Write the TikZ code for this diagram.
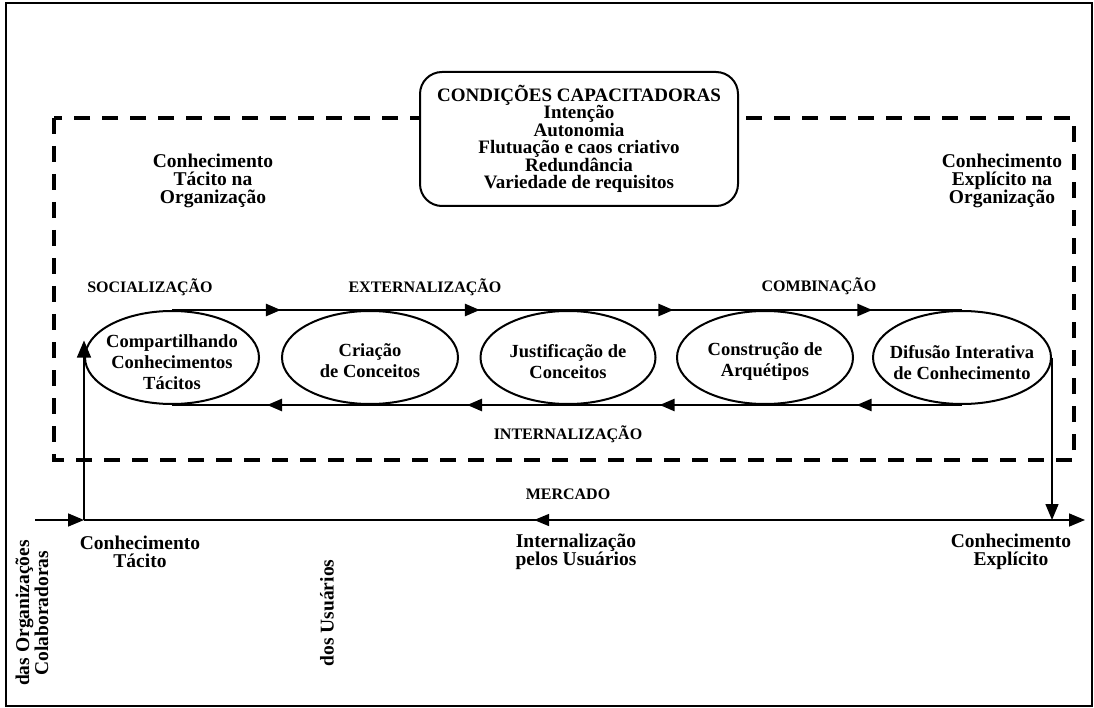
\documentclass[tikz,border=0pt]{standalone}
\usepackage{fontspec}
\setmainfont{Liberation Serif}
\usetikzlibrary{shapes.geometric,arrows.meta,decorations.markings}
\begin{document}
\lineskiplimit=-20pt
\begin{tikzpicture}[x=1pt,y=-1pt,
  lbl/.style={font=\bfseries\fontsize{19.5}{18.2}\selectfont, align=center, inner sep=0pt},
  bottomlbl/.style={font=\bfseries\fontsize{19.5}{17.5}\selectfont, align=center, inner sep=0pt},
  caps/.style={font=\bfseries\fontsize{16}{17}\selectfont, inner sep=0pt},
  stage/.style={ellipse, draw, line width=2pt, minimum height=93pt, inner sep=0pt},
  stagetext/.style={font=\bfseries\fontsize{18.5}{21}\selectfont, align=center, inner sep=0pt},
  flow/.style={line width=2.6pt},
  midtip/.style={postaction={decorate}, decoration={markings,
      mark=at position #1 with {\arrow{Triangle[length=15pt,width=12pt]}}}},
  dashbox/.style={line width=3.5pt, dash pattern=on 16pt off 12pt},
  capbox/.style={draw, line width=2pt, rounded corners=22pt, fill=white,
      minimum width=318pt, minimum height=134pt, align=center,
      font=\bfseries\fontsize{19}{17.5}\selectfont},
  axisline/.style={line width=1.6pt},
  vline/.style={line width=1.4pt},
  tip/.style={-{Triangle[length=16pt,width=13pt]}}
]
\useasboundingbox (0,0) rectangle (1094,708);

% outer frame
\draw[line width=2pt] (6,3) rectangle (1092,706);

% organisation boundary
\draw[dashbox] (54,118) rectangle (1074,460);

% enabling conditions
\node[capbox] (cond) at (579,139) {CONDIÇÕES CAPACITADORAS\\Intenção\\Autonomia\\Flutuação e caos criativo\\Redundância\\Variedade de requisitos};

% side labels
\node[lbl] (tacorg) at (213,181) {Conhecimento\\Tácito na\\Organização};
\node[lbl] (exporg) at (1002,181) {Conhecimento\\Explícito na\\Organização};

% phase labels
\node[caps] (soc) at (150,287) {SOCIALIZAÇÃO};
\node[caps] (ext) at (425,287) {EXTERNALIZAÇÃO};
\node[caps] (comb) at (819,286) {COMBINAÇÃO};
\node[caps] (intl) at (568,434) {INTERNALIZAÇÃO};

% stages
\node[stage, minimum width=174pt] (e1) at (172,357.5) {};
\node[stage, minimum width=176pt] (e2) at (370,357.5) {};
\node[stage, minimum width=175pt] (e3) at (568,357.5) {};
\node[stage, minimum width=176pt] (e4) at (765,357.5) {};
\node[stage, minimum width=178pt] (e5) at (962,357.5) {};

\node[stagetext] (t1) at ([yshift=-5pt]e1.center) {Compartilhando\\Conhecimentos\\Tácitos};
\node[stagetext] (t2) at ([yshift=-3pt]e2.center) {Criação\\de Conceitos};
\node[stagetext] (t3) at ([yshift=-4pt]e3.center) {Justificação de\\Conceitos};
\node[stagetext] (t4) at ([yshift=-4pt]e4.center) {Construção de\\Arquétipos};
\node[stagetext] (t5) at ([yshift=-5pt]e5.center) {Difusão Interativa\\de Conhecimento};

% forward spiral
\draw[flow, midtip=0.55] (e1.north) -- (e2.north);
\draw[flow, midtip=0.555] (e2.north) -- (e3.north);
\draw[flow, midtip=0.535] (e3.north) -- (e4.north);
\draw[flow, midtip=0.545] (e4.north) -- (e5.north);

% return spiral
\draw[flow, midtip=0.535] (e5.south) -- (e4.south);
\draw[flow, midtip=0.535] (e4.south) -- (e3.south);
\draw[flow, midtip=0.51] (e3.south) -- (e2.south);
\draw[flow, midtip=0.52] (e2.south) -- (e1.south);

% market axis
\coordinate (axL) at (35,520);
\coordinate (axR) at (1085,520);
\coordinate (tacit) at (84,520);
\coordinate (explicit) at (e5.east |- axL);
\path (tacit |- e1.west) ++(0,-17) coordinate (tacittop);

\node[caps] (merc) at (568,494) {MERCADO};

\draw[axisline, tip] (axL) -- (tacit);
\draw[axisline, midtip=0.535] (explicit) -- (tacit);
\draw[axisline, tip] (explicit) -- (axR);

\draw[vline, -{Triangle[length=17pt,width=14pt]}] (tacit) -- (tacittop);
\draw[vline, tip] (e5.east) -- (explicit);

% market labels
\node[bottomlbl] (kt) at (140,552) {Conhecimento\\Tácito};
\node[bottomlbl] (ku) at (576,552) {Internalização\\pelos Usuários};
\node[bottomlbl] (ke) at (1011,552) {Conhecimento\\Explícito};
\node[bottomlbl, rotate=90, font=\bfseries\fontsize{19.5}{19}\selectfont] (org) at (32,613) {das Organizações\\Colaboradoras};
\node[bottomlbl, rotate=90] (usr) at (327,613) {dos Usuários};
\end{tikzpicture}
\end{document}
